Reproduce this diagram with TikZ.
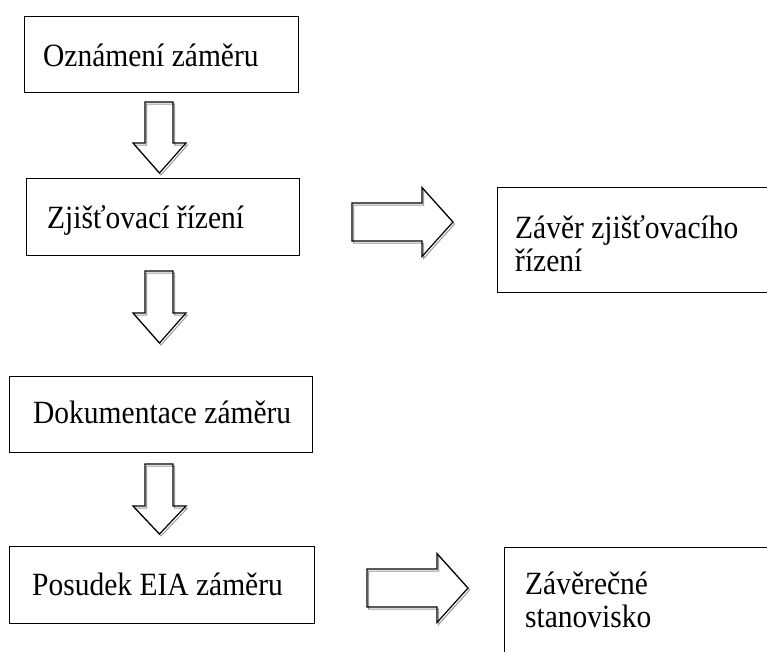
\documentclass[tikz,border=0pt]{standalone}
\usepackage{graphicx}
\usepackage{fontspec}
\setmainfont{Liberation Serif}
\newcommand\tallline[1]{\scalebox{1}[1.1]{#1}}
\newcommand\lblfont{\fontsize{29.5}{33}\selectfont\lineskiplimit -100pt\relax}
\begin{document}
\begin{tikzpicture}[x=1pt,y=-1pt,
  box/.style={draw=black,line width=1.4pt,rectangle,inner sep=0pt,anchor=north west},
  lbl/.style={anchor=base west,inner sep=0pt,font=\lblfont,align=left},
  arrowline/.style={draw=black,line width=1.2pt,line join=miter},
  arrowshadow/.style={draw=black!40,line width=1pt,line join=miter}]
\clip (0,0) rectangle (767,651);
\fill[white] (0,0) rectangle (767,651);

% boxes
\node[box,minimum width=274pt,minimum height=76pt] (b1) at (24,16) {};
\node[box,minimum width=273pt,minimum height=77pt] (b2) at (26,178) {};
\node[box,minimum width=303pt,minimum height=76pt] (b3) at (9,376) {};
\node[box,minimum width=305pt,minimum height=77pt] (b4) at (9,546) {};
\node[box,minimum width=300pt,minimum height=105pt] (r1) at (497,187) {};
\node[box,minimum width=300pt,minimum height=140pt] (r2) at (504,547) {};

% labels
\node[lbl] (t1) at (43,66) {\tallline{Oznámení záměru}};
\node[lbl] (t2) at (47,228) {\tallline{Zjišťovací řízení}};
\node[lbl] (t3) at (33,423) {\tallline{Dokumentace záměru}};
\node[lbl] (t4) at (32,595) {\tallline{Posudek EIA záměru}};
\node[lbl] (t5) at (515,271) {\tallline{Závěr zjišťovacího}\\\tallline{řízení}};
\node[lbl] (t6) at (525,627) {\tallline{Závěrečné}\\\tallline{stanovisko}};

% down block arrows
\foreach \top/\hd/\tip in {102/143/173, 271/313/343, 464/506/534}{
  \draw[arrowshadow,shift={(1.5,2)}] (145,\top) -- (173,\top) -- (173,\hd) -- (186,\hd) -- (159.5,\tip) -- (133,\hd) -- (145,\hd) -- cycle;
  \draw[arrowline] (145,\top) -- (173,\top) -- (173,\hd) -- (186,\hd) -- (159.5,\tip) -- (133,\hd) -- (145,\hd) -- cycle;
}

% right block arrows
\foreach \lx/\hx/\tx/\cy in {352/422/453/222, 367/437/468/588}{
  \draw[arrowshadow,shift={(1.5,2)}] (\lx,\cy-19) -- (\hx,\cy-19) -- (\hx,\cy-34.5) -- (\tx,\cy) -- (\hx,\cy+34.5) -- (\hx,\cy+19) -- (\lx,\cy+19) -- cycle;
  \draw[arrowline] (\lx,\cy-19) -- (\hx,\cy-19) -- (\hx,\cy-34.5) -- (\tx,\cy) -- (\hx,\cy+34.5) -- (\hx,\cy+19) -- (\lx,\cy+19) -- cycle;
}
\end{tikzpicture}
\end{document}
